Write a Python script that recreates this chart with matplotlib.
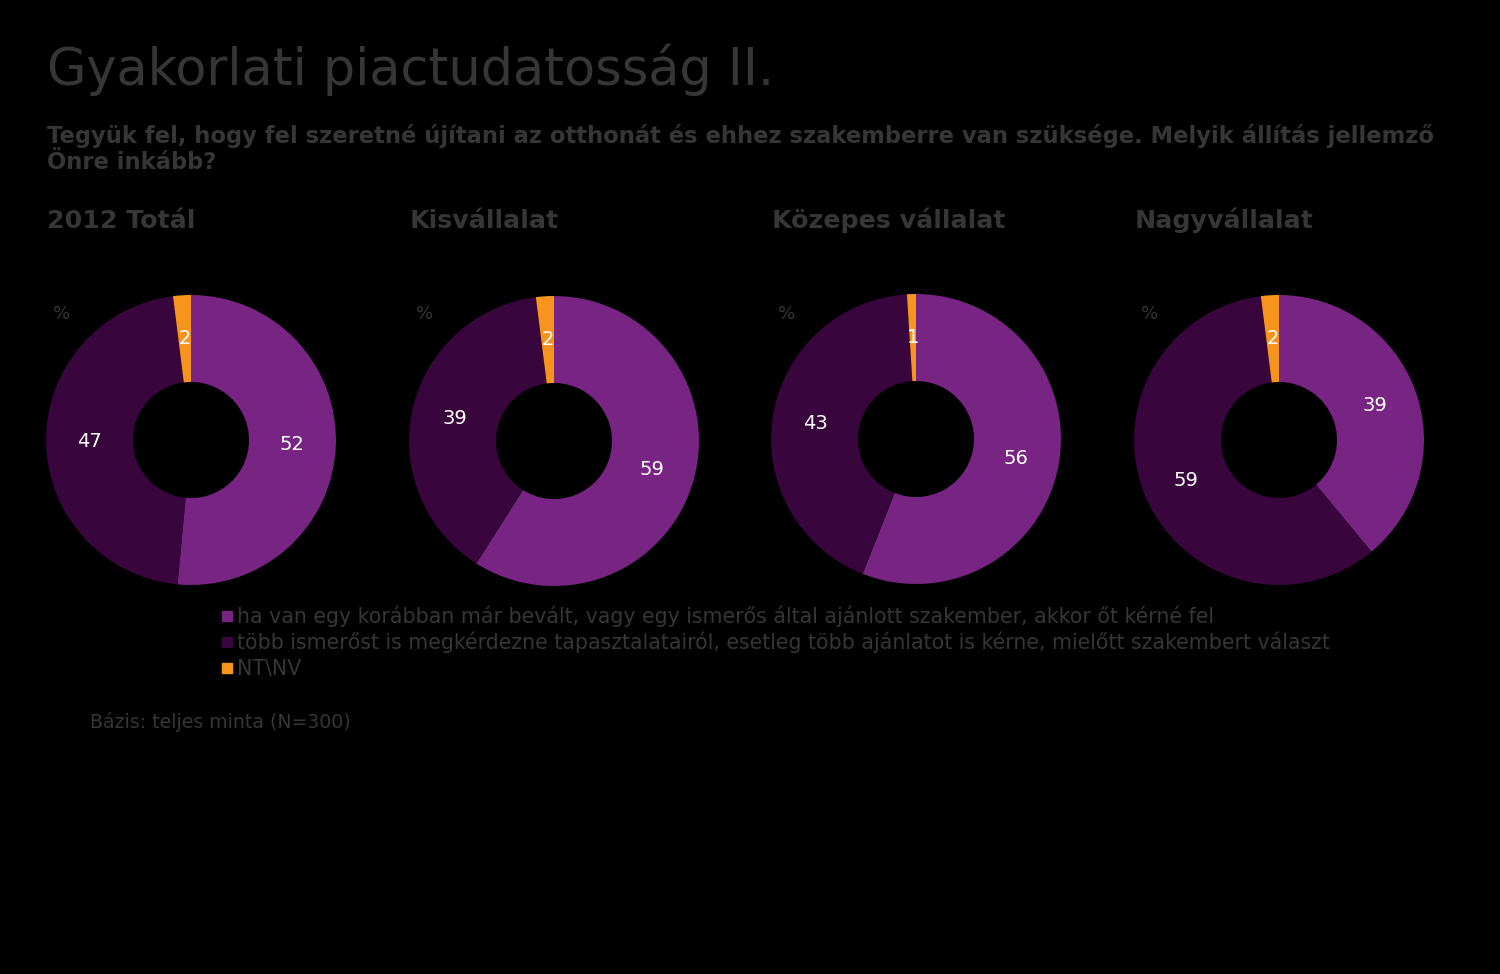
import matplotlib.pyplot as plt
import numpy as np

# data
groups = ['2012 Totál', 'Kisvállalat', 'Közepes vállalat', 'Nagyvállalat']
series = ['ha van egy korábban már bevált, vagy egy ismerős által ajánlott szakember, akkor őt kérné fel',
          'több ismerőst is megkérdezne tapasztalatairól, esetleg több ajánlatot is kérne, mielőtt szakembert választ',
          'NT\\NV']
bevalt = [52, 59, 56, 39]
tobb = [47, 39, 43, 59]
ntnv = [2, 2, 1, 2]

colors = ['#772482', '#38053c', '#f7941e']
grey = '#363636'

plt.rcParams['font.family'] = ['DejaVu Sans']
fig = plt.figure(figsize=(15, 9.74), dpi=100, facecolor='black')
W, H = 1500, 974

fig.text(47/W, 1-85/H, 'Gyakorlati piactudatosság II.', fontsize=36.6, color=grey, va='baseline')
fig.text(47/W, 1-143/H, 'Tegyük fel, hogy fel szeretné újítani az otthonát és ehhez szakemberre van szüksége. Melyik állítás jellemző',
         fontsize=16.3, color=grey, fontweight='bold', va='baseline')
fig.text(47/W, 1-169/H, 'Önre inkább?', fontsize=16.3, color=grey, fontweight='bold', va='baseline')

centers = [(191, 440), (554, 441), (916, 439), (1279, 440)]
R = 145
for i, g in enumerate(groups):
    cx, cy = centers[i]
    fig.text((cx-144)/W, 1-228/H, g, fontsize=18.2, color=grey, fontweight='bold', va='baseline')
    fig.text((cx-138)/W, 1-319/H, '%', fontsize=13, color=grey, va='baseline')
    ax = fig.add_axes([(cx-1.25*R)/W, (H-cy-1.25*R)/H, 2.5*R/W, 2.5*R/H])
    vals = [bevalt[i], tobb[i], ntnv[i]]
    wedges, _ = ax.pie(vals, colors=colors, startangle=90, counterclock=False,
                       wedgeprops=dict(width=0.6, linewidth=0))
    ax.set_facecolor('black')
    for w, v in zip(wedges, vals):
        ang = np.deg2rad((w.theta1 + w.theta2) / 2)
        ax.text(0.7*np.cos(ang), 0.7*np.sin(ang), str(v), color='white',
                fontsize=14, ha='center', va='center')

# legend
for j, s in enumerate(series):
    y = 616 + 26*j
    fig.patches.append(plt.Rectangle((222/W, 1-(y+5)/H), 10/W, 10/H, color=colors[j],
                                     transform=fig.transFigure, figure=fig))
    fig.text(237/W, 1-y/H, s, fontsize=14.8, color=grey, va='center')

fig.text(90/W, 1-722/H, 'Bázis: teljes minta (N=300)', fontsize=13.6, color=grey, va='center')

fig.savefig('out.png', dpi=100, facecolor='black')
